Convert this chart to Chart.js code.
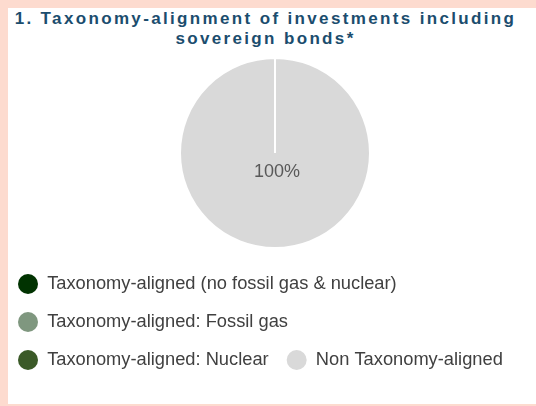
<!DOCTYPE html>
<html lang="en">
<head>
  <meta charset="UTF-8">
  <title>Taxonomy-alignment of investments including sovereign bonds</title>
  <script src="https://cdn.jsdelivr.net/npm/chart.js"></script>
  <style>
    html, body {
      margin: 0;
      padding: 0;
      width: 536px;
      height: 406px;
      overflow: hidden;
      background: #fddbcf;
      font-family: "Liberation Sans", Arial, sans-serif;
    }
    .panel {
      position: absolute;
      left: 8px;
      top: 8px;
      width: 528px;
      height: 396px;
      background: #ffffff;
    }
    .titulo {
      position: absolute;
      left: 0;
      top: 8.6px;
      width: 531px;
      text-align: center;
      font-weight: bold;
      font-size: 17px;
      line-height: 20.5px;
      letter-spacing: 2.35px;
      color: #1b4d6e;
    }
    #grafico {
      position: absolute;
      left: 0;
      top: 50px;
    }
  </style>
</head>
<body>
<div class="panel"></div>
<div class="titulo">1. Taxonomy-alignment of investments including<br>sovereign bonds*</div>
<canvas id="grafico" width="550" height="330"></canvas>

<script>
  // dados
  const categorias = [
    "Taxonomy-aligned (no fossil gas & nuclear)",
    "Taxonomy-aligned: Fossil gas",
    "Taxonomy-aligned: Nuclear",
    "Non Taxonomy-aligned"
  ];
  const percentuais = [0, 0, 0, 100];
  const cores = ["#013301", "#7f977f", "#3b5a28", "#d9d9d9"];

  // rótulo "100%" no meio da pizza
  const rotuloCentro = {
    id: "rotuloCentro",
    afterDatasetsDraw(chart) {
      const meta = chart.getDatasetMeta(0);
      const total = percentuais.reduce((a, b) => a + b, 0);
      const ctx = chart.ctx;
      meta.data.forEach((arco, i) => {
        if (!percentuais[i]) return;
        const texto = Math.round(percentuais[i] / total * 100) + "%";
        ctx.save();
        ctx.font = "18px 'Liberation Sans', Arial, sans-serif";
        ctx.fillStyle = "#595959";
        ctx.textAlign = "center";
        ctx.textBaseline = "middle";
        ctx.fillText(texto, arco.x + 2, arco.y + 19);
        ctx.restore();
      });
    }
  };

  const gerarLegenda = Chart.overrides.doughnut.plugins.legend.labels.generateLabels;

  new Chart(document.getElementById("grafico"), {
    type: "pie",
    data: {
      labels: categorias,
      datasets: [{
        data: percentuais,
        backgroundColor: cores,
        borderColor: "#ffffff",
        borderWidth: 2,
        radius: 95
      }]
    },
    options: {
      responsive: false,
      animation: false,
      layout: { padding: 0 },
      plugins: {
        tooltip: { enabled: false },
        legend: {
          position: "bottom",
          align: "start",
          labels: {
            boxWidth: 20,
            boxHeight: 20,
            padding: 18,
            useBorderRadius: true,
            color: "#404040",
            font: { family: "'Liberation Sans', Arial, sans-serif", size: 18.3 },
            generateLabels: chart => gerarLegenda(chart).map(item => ({
              ...item,
              borderRadius: 10,
              lineWidth: 0
            }))
          }
        }
      }
    },
    plugins: [rotuloCentro]
  });
</script>
</body>
</html>
